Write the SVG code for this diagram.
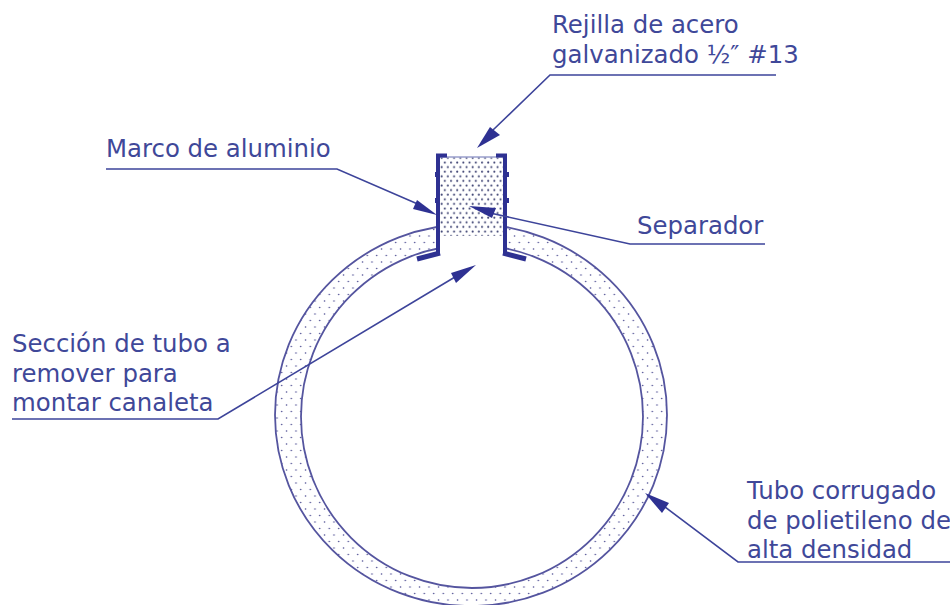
<svg xmlns="http://www.w3.org/2000/svg" width="950" height="605" viewBox="0 0 950 605">
<style>
text{font-family:"DejaVu Sans",Verdana,sans-serif;font-size:24.4px;fill:#3f4899}
.l{fill:none;stroke:#3d449a;stroke-width:1.6}
.r{fill:none;stroke:#55559f;stroke-width:1.8}
.a{fill:#2e3192;stroke:none}
.m{fill:none;stroke:#2e3192;stroke-width:4}
</style>
<defs>
<pattern id="d" width="9.5" height="13" patternUnits="userSpaceOnUse">
<circle cx="1.5" cy="2" r="0.8" fill="#4a4a90"/><circle cx="6.25" cy="8.5" r="0.8" fill="#4a4a90"/>
</pattern>
<pattern id="f" width="6.2" height="9.2" patternUnits="userSpaceOnUse">
<circle cx="1.5" cy="1.5" r="1" fill="#3a3f70"/><circle cx="4.6" cy="6.1" r="1" fill="#3a3f70"/>
</pattern>
<clipPath id="c"><path d="M0 0H950V605H0ZM438 200H505V290H438Z" clip-rule="evenodd"/></clipPath>
</defs>
<rect width="950" height="605" fill="#fff"/>
<g id="tubo" clip-path="url(#c)">
<path d="M275 415a196 191 0 1 0 392 0a196 191 0 1 0 -392 0zM301 416.5a171 171.5 0 1 0 342 0a171 171.5 0 1 0 -342 0z" fill="url(#d)" fill-rule="evenodd"/>
<ellipse class="r" cx="471" cy="415" rx="196" ry="191"/>
<ellipse class="r" cx="472" cy="416.5" rx="171" ry="171.5"/>
</g>
<g id="separador">
<rect x="440" y="157" width="63" height="79" fill="url(#f)"/>
<path d="M440 157H503" stroke="#9a9fcc" stroke-width="1.5" fill="none"/>
</g>
<g id="marco">
<path class="m" d="M447 155.500H438V253"/>
<path class="m" d="M496 155.500H505V253"/>
<path class="m" stroke-width="5" style="stroke-width:5" d="M440 253L417 259"/>
<path class="m" style="stroke-width:5" d="M503 253L526 259"/>
<rect x="435" y="172" width="4" height="5" fill="#2e3192"/>
<rect x="435" y="198" width="4" height="5" fill="#2e3192"/>
<rect x="504" y="172" width="5" height="5" fill="#2e3192"/>
<rect x="504" y="198" width="5" height="5" fill="#2e3192"/>
</g>
<g id="conectores">
<path class="l" d="M776 75H550L493 130"/>
<path class="a" d="M477 148L490 127L500 135Z"/>
<path class="l" d="M106 169H337L420 205"/>
<path class="a" d="M437 215L417 200L413 209Z"/>
<path class="l" d="M765 244H630L490 213"/>
<path class="a" d="M469 206L496 208L492 218Z"/>
<path class="l" d="M12 419H218L455 277"/>
<path class="a" d="M476 265L451 273L456 283Z"/>
<path class="l" d="M950 562H738L665 507"/>
<path class="a" d="M645 493L669 503L662 513Z"/>
</g>
<g id="etiquetas">
<text x="552" y="33">Rejilla de acero</text>
<text x="552" y="63">galvanizado ½″ #13</text>
<text x="106" y="157">Marco de aluminio</text>
<text x="637" y="234">Separador</text>
<text x="12" y="352">Sección de tubo a</text>
<text x="12" y="382">remover para</text>
<text x="12" y="411">montar canaleta</text>
<text x="747" y="499">Tubo corrugado</text>
<text x="747" y="529">de polietileno de</text>
<text x="747" y="558">alta densidad</text>
</g>
</svg>
